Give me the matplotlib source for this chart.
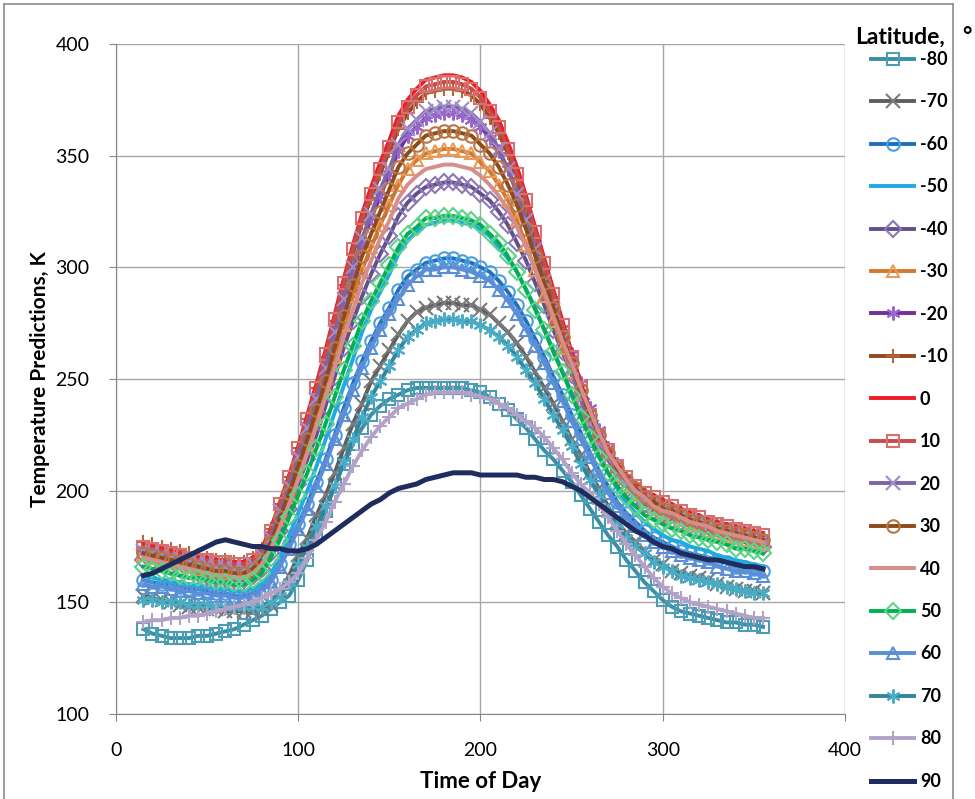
import matplotlib
matplotlib.use("Agg")
import matplotlib.pyplot as plt
from matplotlib.lines import Line2D

plt.rcParams['font.family'] = ['Lato', 'DejaVu Sans']

# time of day (x) shared by all series
time_of_day = [15, 20, 25, 30, 35, 40, 45, 50, 55, 60, 65,
               70, 75, 80, 85, 90, 95, 100, 105, 110, 115, 120, 125, 130, 135, 140,
               145, 150, 155, 160, 165, 170, 175, 180,
               185, 190, 195, 200, 205, 210, 215, 220, 225, 230, 235, 240, 245, 250,
               255, 260, 265, 270, 275, 280, 285, 290, 295, 300, 305, 310, 315, 320,
               325, 330, 335, 340, 345, 350, 355]

# temperature predictions, K, one list per latitude
t_m80 = [138, 136, 135, 134, 134, 134, 135, 135, 136, 137, 138,
         140, 142, 144, 147, 150, 153, 160, 169, 180, 191, 202, 212, 221, 228, 234, 238, 241, 243, 245, 246, 246, 246, 246,
         246, 246, 245, 244, 242, 239, 236, 232, 228, 223, 218, 214, 209, 204, 198, 192, 186, 180, 175, 169,
         164, 159, 155, 151, 148, 146, 145, 144, 143, 142, 141, 141, 140, 140, 139]
t_m70 = [153, 152, 151, 150, 149, 148, 148, 147, 147, 146, 146,
         146, 146, 147, 149, 155, 162, 171, 179, 189, 198, 208, 219, 230, 239, 249, 256, 263, 270, 276, 280, 282, 283, 284,
         284, 283, 283, 281, 279, 275, 271, 266, 260, 253, 246, 239, 231, 223, 216, 208, 201, 193, 186, 181,
         177, 173, 169, 167, 164, 163, 162, 161, 160, 158, 157, 156, 155, 155, 154]
t_m60 = [160, 159, 158, 158, 157, 156, 156, 155, 154, 154, 153,
         153, 154, 156, 160, 167, 176, 185, 194, 204, 214, 225, 237, 248, 258, 267, 275, 282, 290, 296, 299, 302, 303, 304,
         304, 303, 302, 300, 298, 294, 289, 283, 276, 268, 260, 251, 243, 234, 226, 217, 209, 202, 195, 190,
         186, 182, 179, 177, 175, 173, 172, 171, 170, 169, 168, 166, 166, 165, 164]
t_m50 = [162, 161, 160, 159, 159, 158, 157, 157, 156, 156, 155,
         155, 156, 158, 163, 170, 180, 190, 200, 211, 223, 235, 247, 259, 271, 281, 289, 297, 306, 312, 316, 319, 320, 321,
         321, 320, 319, 317, 314, 309, 304, 298, 290, 282, 272, 263, 253, 244, 235, 225, 216, 208, 201, 195,
         190, 186, 183, 180, 178, 177, 175, 174, 173, 171, 170, 169, 168, 167, 166]
t_m40 = [169, 168, 167, 166, 165, 164, 163, 162, 161, 161, 160,
         160, 162, 165, 172, 182, 192, 203, 214, 225, 238, 251, 264, 276, 287, 297, 306, 314, 323, 329, 333, 336, 337, 338,
         338, 337, 336, 333, 330, 325, 319, 311, 303, 293, 283, 272, 262, 252, 241, 231, 222, 214, 207, 202,
         197, 194, 191, 189, 187, 186, 184, 183, 181, 180, 179, 178, 177, 176, 175]
t_m30 = [171, 170, 169, 168, 167, 166, 165, 165, 164, 163, 163,
         163, 165, 169, 176, 187, 197, 209, 221, 233, 246, 260, 274, 287, 299, 309, 319, 328, 337, 344, 348, 351, 352, 353,
         353, 352, 351, 347, 343, 337, 330, 321, 310, 299, 287, 276, 264, 253, 241, 230, 221, 214, 207, 202,
         198, 195, 192, 190, 188, 187, 185, 184, 182, 181, 180, 179, 178, 177, 176]
t_m20 = [174, 173, 172, 171, 170, 169, 168, 168, 167, 167, 166,
         166, 168, 172, 180, 191, 203, 215, 228, 241, 255, 270, 284, 298, 311, 322, 332, 342, 352, 359, 363, 367, 368, 369,
         369, 368, 366, 363, 358, 352, 344, 334, 323, 311, 298, 286, 273, 261, 248, 237, 227, 219, 212, 206,
         202, 198, 195, 193, 191, 189, 188, 186, 185, 184, 183, 181, 180, 179, 179]
t_m10 = [177, 176, 175, 174, 173, 172, 171, 170, 169, 169, 168,
         168, 170, 174, 183, 194, 206, 219, 232, 246, 260, 276, 292, 306, 320, 331, 342, 352, 362, 369, 374, 378, 379, 380,
         380, 379, 377, 373, 367, 360, 351, 340, 327, 313, 300, 286, 272, 258, 245, 233, 223, 216, 209, 205,
         201, 198, 196, 194, 192, 190, 188, 187, 185, 184, 183, 182, 181, 180, 179]
t_0 = [176, 175, 174, 173, 172, 171, 170, 170, 169, 168, 168,
       168, 170, 174, 183, 195, 207, 220, 234, 248, 263, 279, 295, 310, 324, 336, 347, 357, 368, 375, 380, 384, 385, 386,
       386, 385, 383, 379, 373, 366, 356, 345, 332, 318, 304, 290, 276, 262, 248, 236, 226, 219, 212, 207,
       203, 200, 198, 196, 194, 192, 190, 189, 187, 186, 185, 184, 183, 182, 181]
t_10 = [175, 174, 173, 172, 171, 170, 169, 169, 168, 168, 167,
        167, 169, 173, 182, 194, 206, 219, 232, 246, 261, 277, 293, 308, 322, 333, 344, 354, 365, 372, 377, 381, 382, 383,
        383, 382, 380, 376, 370, 363, 353, 342, 330, 316, 302, 288, 274, 260, 246, 234, 225, 218, 211, 206,
        202, 199, 197, 195, 193, 191, 189, 188, 186, 185, 184, 183, 182, 181, 180]
t_20 = [173, 172, 171, 170, 169, 168, 168, 167, 166, 166, 165,
        165, 167, 171, 179, 191, 202, 215, 228, 241, 255, 271, 286, 300, 313, 324, 335, 344, 355, 362, 366, 370, 371, 372,
        372, 371, 369, 365, 360, 353, 344, 333, 321, 308, 294, 281, 268, 255, 241, 230, 221, 214, 207, 203,
        199, 196, 194, 192, 190, 188, 187, 186, 184, 183, 182, 181, 180, 179, 178]
t_30 = [172, 171, 170, 169, 168, 167, 166, 165, 164, 164, 163,
        163, 165, 169, 177, 188, 199, 211, 223, 236, 249, 264, 278, 292, 305, 315, 325, 335, 345, 351, 355, 359, 360, 361,
        361, 360, 359, 355, 351, 345, 337, 328, 317, 305, 293, 282, 269, 257, 245, 234, 225, 217, 210, 205,
        201, 197, 195, 192, 191, 189, 187, 186, 184, 183, 182, 181, 180, 179, 178]
t_40 = [170, 169, 168, 167, 166, 165, 164, 163, 162, 162, 161,
        161, 163, 167, 174, 184, 194, 205, 217, 229, 242, 255, 269, 281, 293, 303, 313, 321, 331, 337, 341, 344, 345, 346,
        346, 345, 344, 341, 337, 332, 326, 318, 309, 299, 289, 278, 267, 257, 246, 236, 226, 217, 211, 205,
        200, 197, 193, 191, 190, 188, 186, 185, 184, 182, 181, 180, 179, 178, 177]
t_50 = [166, 165, 164, 163, 162, 161, 161, 160, 159, 159, 158,
        158, 160, 163, 170, 178, 188, 198, 208, 219, 230, 242, 254, 265, 276, 285, 293, 301, 309, 315, 318, 322, 322, 323,
        323, 322, 321, 319, 315, 311, 305, 298, 290, 281, 272, 262, 253, 243, 233, 224, 215, 208, 202, 197,
        193, 189, 187, 185, 183, 182, 180, 179, 178, 177, 176, 174, 174, 173, 172]
t_60 = [158, 157, 157, 156, 155, 155, 154, 154, 153, 153, 152,
        152, 153, 155, 159, 166, 174, 183, 192, 202, 212, 223, 234, 245, 255, 264, 272, 279, 286, 292, 296, 299, 299, 300,
        300, 299, 298, 296, 294, 290, 285, 279, 272, 265, 257, 248, 240, 231, 223, 215, 207, 199, 193, 188,
        184, 180, 177, 175, 173, 171, 170, 169, 168, 166, 165, 164, 164, 163, 162]
t_70 = [151, 151, 150, 150, 150, 149, 149, 149, 148, 148, 148,
        148, 148, 148, 150, 153, 159, 167, 175, 184, 193, 202, 213, 223, 233, 242, 249, 256, 263, 269, 272, 275, 276, 277,
        277, 276, 276, 274, 272, 269, 265, 260, 254, 248, 241, 234, 227, 220, 212, 205, 198, 191, 185, 179,
        175, 172, 168, 166, 164, 162, 161, 160, 159, 158, 157, 156, 155, 154, 154]
t_80 = [141, 142, 142, 143, 143, 144, 144, 145, 146, 147, 148,
        149, 150, 152, 154, 156, 159, 163, 170, 178, 186, 195, 203, 211, 218, 224, 229, 233, 237, 239, 241, 243, 244, 244,
        244, 244, 243, 242, 241, 239, 237, 234, 231, 228, 224, 219, 214, 208, 203, 199, 194, 188, 182, 176,
        171, 166, 161, 157, 154, 152, 150, 149, 148, 147, 146, 145, 144, 143, 143]
t_90 = [162, 163, 165, 167, 169, 171, 173, 175, 177, 178, 177,
        176, 175, 175, 174, 174, 173, 173, 174, 176, 179, 182, 185, 188, 191, 194, 196, 199, 201, 202, 203, 205, 206, 207,
        208, 208, 208, 207, 207, 207, 207, 207, 206, 206, 205, 205, 204, 202, 200, 197, 194, 191, 188, 185,
        182, 180, 177, 175, 174, 172, 171, 170, 169, 169, 168, 167, 166, 166, 165]

latitudes = ['-80', '-70', '-60', '-50', '-40', '-30', '-20', '-10', '0',
             '10', '20', '30', '40', '50', '60', '70', '80', '90']
series = [t_m80, t_m70, t_m60, t_m50, t_m40, t_m30, t_m20, t_m10, t_0,
          t_10, t_20, t_30, t_40, t_50, t_60, t_70, t_80, t_90]

# style per series: line colour, marker, marker edge colour
asterisk = (6, 2, 0)
styles = [
    ('#3A8FA6', 's', '#4A9DB3'),
    ('#5E5E5E', 'x', '#7A7A7A'),
    ('#1F6FBF', 'o', '#4A9FE0'),
    ('#20AAE2', None, None),
    ('#62508C', 'D', '#8C77B5'),
    ('#D6782C', '^', '#E89A5A'),
    ('#7030A0', asterisk, '#9966CC'),
    ('#94491C', '+', '#B2663A'),
    ('#EE1C25', None, None),
    ('#C84B4B', 's', '#D97070'),
    ('#7F63A8', 'x', '#A08CC8'),
    ('#8E4A1A', 'o', '#B97543'),
    ('#D68D8B', None, None),
    ('#00B050', 'D', '#5CD38A'),
    ('#5B8ED6', '^', '#5B8ED6'),
    ('#31859C', asterisk, '#4BACC6'),
    ('#B3A2C7', '+', '#B3A2C7'),
    ('#1F2D5E', None, None),
]

fig = plt.figure(figsize=(9.75, 7.99), dpi=100)
ax = fig.add_axes([116 / 975, 1 - 714 / 799, (845 - 116) / 975, (714 - 44) / 799])

handles = []
for temps, lat, (col, mk, mec) in zip(series, latitudes, styles):
    lw = 3.6 if lat == '90' else 2.8
    if mk is None:
        h, = ax.plot(time_of_day, temps, color=col, lw=lw, label=lat)
    else:
        if mk in ('x', '+', asterisk):
            ms = 10
        elif mk == 'D':
            ms = 8
        else:
            ms = 9
        h, = ax.plot(time_of_day, temps, color=col, lw=lw, marker=mk, ms=ms,
                     mfc='none', mec=mec, mew=1.5, label=lat)
    handles.append(h)

ax.set_xlim(0, 400)
ax.set_ylim(100, 400)
ax.set_xticks([0, 100, 200, 300, 400])
ax.set_yticks([100, 150, 200, 250, 300, 350, 400])
ax.grid(True, color='#A6A6A6', lw=1.0)
ax.set_axisbelow(True)
for side in ['top', 'right']:
    ax.spines[side].set_visible(False)
for side in ['left', 'bottom']:
    ax.spines[side].set_color('#868686')
ax.tick_params(axis='both', labelsize=14, colors='#868686', length=5, labelcolor='#000000')
ax.tick_params(axis='x', pad=15)
ax.tick_params(axis='y', pad=14)

ax.set_xlabel('Time of Day', fontsize=16, fontweight='bold', labelpad=9)
ax.set_ylabel('Temperature Predictions, K', fontsize=15, fontweight='bold', labelpad=4)

# legend on the right, title as its own text
fig.text(855 / 975, 1 - 37 / 799, 'Latitude,', fontsize=16.5, fontweight='bold', va='center', ha='left')
fig.text(962 / 975, 1 - 37 / 799, '\u00b0', fontsize=16.5, fontweight='bold', va='center', ha='left')
leg = fig.legend(handles=handles, labels=latitudes, loc='upper left',
                 bbox_to_anchor=(862 / 975, 1 - 42 / 799), frameon=False,
                 prop={'size': 13, 'weight': 'bold'},
                 handlelength=2.4, handletextpad=0.3, labelspacing=1.41, borderpad=0)

# outer chart frame
frame_col = '#8C8C8C'
fig.add_artist(Line2D([4 / 975, 953 / 975], [1 - 4 / 799, 1 - 4 / 799], transform=fig.transFigure, color=frame_col, lw=1.2))
fig.add_artist(Line2D([4 / 975, 4 / 975], [0, 1 - 4 / 799], transform=fig.transFigure, color=frame_col, lw=1.2))
fig.add_artist(Line2D([953 / 975, 953 / 975], [0, 1 - 4 / 799], transform=fig.transFigure, color=frame_col, lw=1.2))

fig.savefig('out.png', dpi=100)
